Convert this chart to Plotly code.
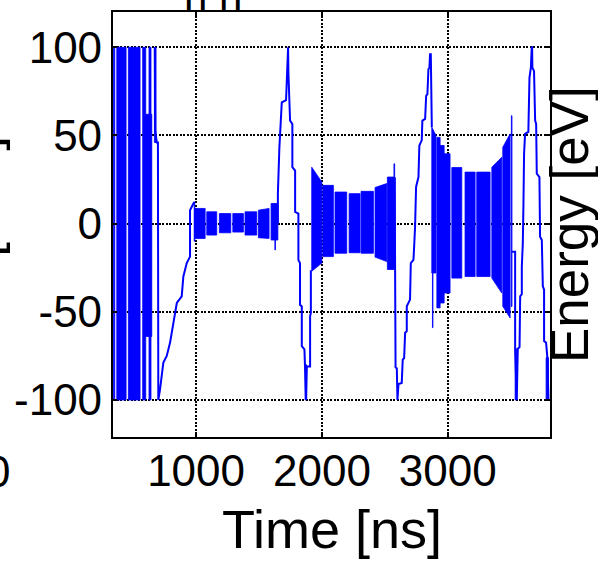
import plotly.graph_objects as go

# --- trace data: energy [eV] versus time [ns] ---------------------------
# Dense oscillation bursts: time span and the upper / lower envelope
# at the start and at the end of each burst.
burst_start = [343, 370, 462, 576, 600, 626, 669,
               985, 988, 1085, 1185, 1292, 1389, 1495, 1596, 1626, 1866,
               1919, 2007, 2104, 2216, 2311, 2422, 2520, 2572,
               2873, 2878, 2913, 2939, 2971, 3032, 3137, 3230, 3350, 3437, 3505, 3535,
               3781]
burst_end = [354, 444, 555, 600, 648, 642, 682,
             990, 1072, 1164, 1276, 1376, 1482, 1580, 1650, 1631, 1878,
             1999, 2091, 2197, 2303, 2409, 2515, 2581, 2578,
             2906, 2882, 2939, 2971, 3018, 3111, 3217, 3336, 3429, 3495, 3510, 3548,
             3800]
burst_top_start = [100, 100, 100, 100, 62, 100, 100,
                   12.3, 8.6, 6.7, 5.7, 5.7, 6.7, 7.6, 11.4, 11.4, -80,
                   32, 21.7, 17.9, 17, 18.3, 20.5, 26.4, 33.9,
                   54.6, 50, 48.9, 44.3, 39.6, 31.8, 29.2, 29.2, 32, 43.3, 61.2, -71,
                   -76]
burst_top_end = [100, 100, 100, 100, 62, 100, 100,
                 12.3, 8.6, 6.7, 5.7, 5.7, 6.7, 8.6, 11.4, 11.4, -80,
                 23.6, 21.7, 17.9, 17, 18.3, 22.7, 26.4, 33.9,
                 50, 50, 48.9, 44.3, 39.6, 31.8, 29.2, 29.2, 37.7, 50.9, 61.2, -71,
                 -76]
burst_bottom_start = [-100, -100, -100, -100, -64, -100, 46,
                      -10, -8.4, -6.5, -5.2, -4.8, -6.5, -8.0, -9.3, -14.9, -100,
                      -27, -18.7, -16.8, -16.5, -16.8, -19, -26, -26.2,
                      -28, -59, -47.8, -45, -39.4, -30.9, -30, -30, -30.9, -46.9, -47, -100,
                      -100]
burst_bottom_end = [-100, -100, -100, -100, -64, -100, 46,
                    -10, -8.4, -6.5, -5.2, -4.8, -6.5, -8.4, -9.3, -14.9, -100,
                    -22.4, -18.7, -16.8, -16.5, -16.8, -21.5, -26, -26.2,
                    -28, -59, -47.8, -45, -39.4, -30.9, -30, -30, -39.4, -53.5, -47, -100,
                    -100]

# Slow energy sweeps connecting the bursts.
sweep1_t = [672, 675, 688, 697, 700, 707, 714, 740, 767, 793, 807, 820, 847,
            886, 899, 926, 952, 952, 979, 985]
sweep1_e = [100, 52.7, 46, 46, -100, -95, -93.9, -78.8, -75, -67.6, -61.9, -54.4, -45,
            -41.3, -30, -22.4, -18.7, 7.6, 11.4, 12.3]

sweep2_t = [1650, 1650, 1662, 1681, 1715, 1721, 1728, 1731, 1734, 1747, 1765, 1765,
            1787, 1787, 1813, 1813, 1826, 1826, 1840, 1840, 1861, 1866, 1874, 1880,
            1906, 1906, 1912, 1912, 1919]
sweep2_e = [0, 17, 43.3, 68.7, 70, 84.7, 100, 100, 84.7, 58.4, 56.5, 32,
            30.1, 6.7, 5.7, -20.6, -22.4, -46, -47, -69.5, -71.3, -80.7, -100, -81,
            -81, -52.5, -50.6, -27, -27]

sweep3_t = [2578, 2581, 2585, 2595, 2600, 2608, 2634, 2642, 2653, 2661, 2674, 2674,
            2700, 2706, 2727, 2732, 2740, 2748, 2767, 2774, 2793, 2798, 2820, 2828,
            2838, 2846, 2854, 2859, 2865, 2873]
sweep3_e = [26, -26, -81.6, -82, -100, -91, -90.4, -77, -76.3, -61.9, -61, -46.9,
            -43.1, -22.4, -20.6, -14, -1.8, 20.8, 26.4, 44.3, 47.2, 58.4, 59.4, 72.5,
            73.4, 87.5, 88.4, 96, 96, 54.6]

sweep4_t = [3510, 3535, 3535, 3548, 3556, 3570, 3575, 3588, 3588, 3596, 3601, 3606,
            3614, 3640, 3649, 3660, 3667, 3670, 3672, 3685, 3694, 3702, 3707, 3728,
            3733, 3747, 3755, 3765, 3765, 3781, 3791, 3795, 3800]
sweep4_e = [-16, -16, -71.3, -100, -71, -70, -41.3, -40, -24.4, -11.2, 10.4, 39.6,
            50.9, 52, 82.8, 88.4, 100, 100, 88.4, 86.6, 58.4, 56.5, 28.3, 26.4,
            -7.4, -9.3, -35.6, -37.5, -66.6, -67.6, -76, -100, -100]

x_ticks = [1000, 2000, 3000]
y_ticks = [-100, -50, 0, 50, 100]

BLUE = "#0000ff"
FONT = "Liberation Sans, Arial, sans-serif"

fig = go.Figure()

# bursts drawn as filled envelopes (one closed polygon per burst)
bx, by = [], []
for t0, t1, h0, h1, l0, l1 in zip(burst_start, burst_end, burst_top_start,
                                  burst_top_end, burst_bottom_start, burst_bottom_end):
    bx += [t0, t1, t1, t0, t0, None]
    by += [h0, h1, l1, l0, h0, None]
fig.add_trace(go.Scatter(x=bx, y=by, mode="lines", fill="toself",
                         fillcolor=BLUE, line=dict(color=BLUE, width=0.8),
                         hoverinfo="skip", showlegend=False))

for st, se in [(sweep1_t, sweep1_e), (sweep2_t, sweep2_e),
               (sweep3_t, sweep3_e), (sweep4_t, sweep4_e)]:
    fig.add_trace(go.Scatter(x=st, y=se, mode="lines",
                             line=dict(color=BLUE, width=2),
                             hoverinfo="skip", showlegend=False))

axis_common = dict(
    showline=True, linecolor="black", linewidth=2.2, mirror="ticks",
    showgrid=True, gridcolor="black", gridwidth=1.6, griddash="2px,1.5px",
    ticks="inside", ticklen=4, tickcolor="black", tickwidth=1.6,
    zeroline=False, tickfont=dict(family=FONT, size=44, color="black"),
)

fig.update_xaxes(range=[340, 3812], tickvals=x_ticks, ticklabelstandoff=-6,
                 ticktext=[str(v) for v in x_ticks], **axis_common)
fig.update_yaxes(range=[-121, 120], tickvals=y_ticks,
                 ticktext=[str(v) for v in y_ticks], **axis_common)

annotations = [
    dict(text="Time [ns]", x=0.5, y=-0.2155, xref="paper", yref="paper",
         xanchor="center", yanchor="middle", showarrow=False,
         font=dict(family=FONT, size=54, color="black")),
    dict(text="Energy [eV]", x=1.0449, y=0.5, xref="paper", yref="paper",
         xanchor="center", yanchor="middle", textangle=-90, showarrow=False,
         font=dict(family=FONT, size=53, color="black")),
    dict(text="[keV]", x=-0.303, y=0.5667, xref="paper", yref="paper",
         xanchor="center", yanchor="middle", textangle=-90, showarrow=False,
         font=dict(family=FONT, size=53, color="black")),
    dict(text="0", x=-0.264, y=-0.08, xref="paper", yref="paper",
         xanchor="center", yanchor="middle", showarrow=False,
         font=dict(family=FONT, size=44, color="black")),
    dict(text="n n", x=0.2288, y=1.0342, xref="paper", yref="paper",
         xanchor="center", yanchor="middle", showarrow=False,
         font=dict(family=FONT, size=42, color="black")),
]

fig.update_layout(
    width=598, height=561,
    margin=dict(l=113, r=48, t=10, b=124, pad=0),
    paper_bgcolor="white", plot_bgcolor="white",
    annotations=annotations,
    font=dict(family=FONT, color="black"),
)

fig.write_html("out.html", config={"displayModeBar": False})
